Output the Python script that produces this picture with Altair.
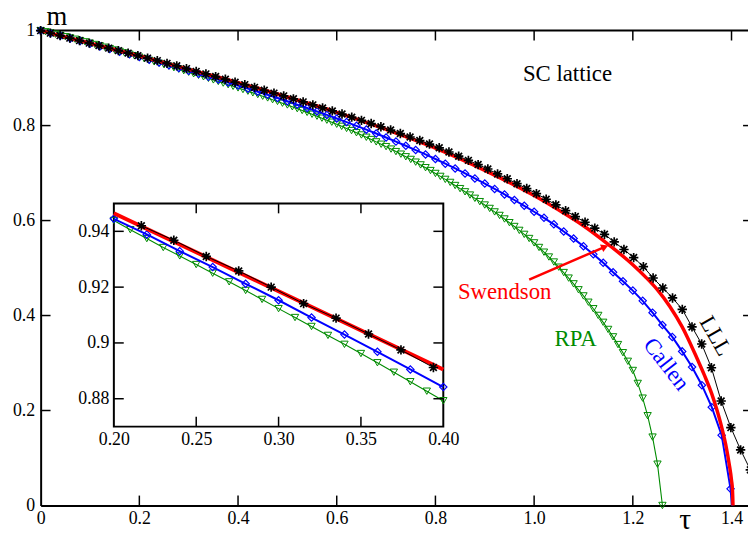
import altair as alt
import pandas as pd

# ---------------- data ----------------
LLL_TAU = [
    0.0000, 0.0197, 0.0394, 0.0591, 0.0788, 0.0985, 0.1182, 0.1379, 0.1576, 0.1773,
    0.1970, 0.2167, 0.2364, 0.2561, 0.2758, 0.2955, 0.3152, 0.3349, 0.3546, 0.3743,
    0.3940, 0.4137, 0.4334, 0.4531, 0.4728, 0.4925, 0.5122, 0.5319, 0.5516, 0.5713,
    0.5910, 0.6107, 0.6304, 0.6501, 0.6698, 0.6895, 0.7092, 0.7289, 0.7486, 0.7683,
    0.7880, 0.8077, 0.8274, 0.8471, 0.8668, 0.8865, 0.9062, 0.9259, 0.9456, 0.9653,
    0.9850, 1.0047, 1.0244, 1.0441, 1.0638, 1.0835, 1.1032, 1.1229, 1.1426, 1.1623,
    1.1820, 1.2017, 1.2214, 1.2411, 1.2608, 1.2805, 1.3002, 1.3199, 1.3396, 1.3593,
    1.3790, 1.3987, 1.4184, 1.4381]
LLL_M = [
    1.0000, 0.9947, 0.9895, 0.9842, 0.9789, 0.9737, 0.9684, 0.9631, 0.9578, 0.9526,
    0.9473, 0.9420, 0.9368, 0.9310, 0.9258, 0.9200, 0.9141, 0.9089, 0.9032, 0.8975,
    0.8912, 0.8863, 0.8804, 0.8744, 0.8684, 0.8625, 0.8563, 0.8499, 0.8436, 0.8372,
    0.8309, 0.8243, 0.8177, 0.8110, 0.8043, 0.7976, 0.7906, 0.7832, 0.7759, 0.7685,
    0.7611, 0.7532, 0.7444, 0.7356, 0.7267, 0.7179, 0.7085, 0.6982, 0.6880, 0.6777,
    0.6674, 0.6567, 0.6449, 0.6331, 0.6208, 0.6084, 0.5965, 0.5841, 0.5710, 0.5550,
    0.5390, 0.5220, 0.5030, 0.4790, 0.4580, 0.4370, 0.4130, 0.3760, 0.3400, 0.2900,
    0.2200, 0.1640, 0.1170, 0.0750]

CALLEN_TAU = [
    0.00, 0.02, 0.04, 0.06, 0.08, 0.10, 0.12, 0.14, 0.16, 0.18,
    0.20, 0.22, 0.24, 0.26, 0.28, 0.30, 0.32, 0.34, 0.36, 0.38,
    0.40, 0.42, 0.44, 0.46, 0.48, 0.50, 0.52, 0.54, 0.56, 0.58,
    0.60, 0.62, 0.64, 0.66, 0.68, 0.70, 0.72, 0.74, 0.76, 0.78,
    0.80, 0.82, 0.84, 0.86, 0.88, 0.90, 0.92, 0.94, 0.96, 0.98,
    1.00, 1.02, 1.04, 1.06, 1.08, 1.10, 1.12, 1.14, 1.16, 1.18,
    1.20, 1.22, 1.24, 1.26, 1.28, 1.30, 1.32, 1.34, 1.36, 1.38,
    1.398, 1.401]
CALLEN_M = [
    1.0000, 0.9945, 0.9890, 0.9835, 0.9779, 0.9724, 0.9668, 0.9612, 0.9556, 0.9501,
    0.9445, 0.9389, 0.9329, 0.9272, 0.9212, 0.9153, 0.9091, 0.9030, 0.8968, 0.8905,
    0.8842, 0.8778, 0.8713, 0.8647, 0.8580, 0.8512, 0.8442, 0.8371, 0.8299, 0.8225,
    0.8150, 0.8073, 0.7995, 0.7915, 0.7833, 0.7749, 0.7663, 0.7575, 0.7485, 0.7392,
    0.7296, 0.7198, 0.7097, 0.6993, 0.6887, 0.6778, 0.6666, 0.6551, 0.6433, 0.6311,
    0.6186, 0.6057, 0.5920, 0.5770, 0.5620, 0.5460, 0.5290, 0.5110, 0.4910, 0.4720,
    0.4525, 0.4310, 0.4060, 0.3800, 0.3550, 0.3245, 0.2915, 0.2533, 0.2070, 0.1480,
    0.0350, 0.0000]

RPA_TAU = [
    0.00, 0.01, 0.02, 0.03, 0.04, 0.05, 0.06, 0.07, 0.08, 0.09,
    0.10, 0.11, 0.12, 0.13, 0.14, 0.15, 0.16, 0.17, 0.18, 0.19,
    0.20, 0.21, 0.22, 0.23, 0.24, 0.25, 0.26, 0.27, 0.28, 0.29,
    0.30, 0.31, 0.32, 0.33, 0.34, 0.35, 0.36, 0.37, 0.38, 0.39,
    0.40, 0.41, 0.42, 0.43, 0.44, 0.45, 0.46, 0.47, 0.48, 0.49,
    0.50, 0.51, 0.52, 0.53, 0.54, 0.55, 0.56, 0.57, 0.58, 0.59,
    0.60, 0.61, 0.62, 0.63, 0.64, 0.65, 0.66, 0.67, 0.68, 0.69,
    0.70, 0.71, 0.72, 0.73, 0.74, 0.75, 0.76, 0.77, 0.78, 0.79,
    0.80, 0.81, 0.82, 0.83, 0.84, 0.85, 0.86, 0.87, 0.88, 0.89,
    0.90, 0.91, 0.92, 0.93, 0.94, 0.95, 0.96, 0.97, 0.98, 0.99,
    1.00, 1.01, 1.02, 1.03, 1.04, 1.05, 1.06, 1.07, 1.08, 1.09,
    1.10, 1.11, 1.12, 1.13, 1.14, 1.15, 1.16, 1.17, 1.18, 1.19,
    1.20, 1.21, 1.22, 1.23, 1.24, 1.25, 1.26]
RPA_M = [
    1.0000, 0.9975, 0.9949, 0.9924, 0.9898, 0.9871, 0.9845, 0.9818, 0.9790, 0.9763,
    0.9735, 0.9707, 0.9678, 0.9650, 0.9621, 0.9591, 0.9561, 0.9531, 0.9501, 0.9470,
    0.9439, 0.9406, 0.9374, 0.9342, 0.9312, 0.9281, 0.9250, 0.9219, 0.9188, 0.9156,
    0.9123, 0.9091, 0.9059, 0.9027, 0.8995, 0.8962, 0.8929, 0.8895, 0.8861, 0.8827,
    0.8793, 0.8759, 0.8724, 0.8689, 0.8654, 0.8618, 0.8582, 0.8546, 0.8509, 0.8472,
    0.8434, 0.8396, 0.8357, 0.8318, 0.8278, 0.8238, 0.8197, 0.8156, 0.8114, 0.8071,
    0.8028, 0.7984, 0.7940, 0.7895, 0.7849, 0.7802, 0.7754, 0.7706, 0.7657, 0.7607,
    0.7557, 0.7505, 0.7452, 0.7398, 0.7343, 0.7287, 0.7230, 0.7172, 0.7113, 0.7053,
    0.6992, 0.6930, 0.6867, 0.6803, 0.6738, 0.6672, 0.6605, 0.6537, 0.6468, 0.6398,
    0.6327, 0.6255, 0.6182, 0.6108, 0.6033, 0.5955, 0.5875, 0.5793, 0.5709, 0.5622,
    0.5530, 0.5433, 0.5334, 0.5232, 0.5127, 0.5018, 0.4905, 0.4788, 0.4667, 0.4542,
    0.4413, 0.4280, 0.4143, 0.4002, 0.3857, 0.3707, 0.3551, 0.3388, 0.3217, 0.3036,
    0.2843, 0.2570, 0.2260, 0.1890, 0.1440, 0.0870, 0.0000]

SW_TAU = [0.0, 0.1, 0.2, 0.3, 0.4, 0.5, 0.6, 0.7, 0.8, 0.9, 1.0, 1.05, 1.1, 1.15,
          1.2, 1.225, 1.25, 1.275, 1.3, 1.31, 1.33, 1.345, 1.36, 1.37, 1.38, 1.39,
          1.395, 1.4, 1.402, 1.403]
SW_M = [1.0, 0.9733, 0.9465, 0.9185, 0.8905, 0.8602, 0.828, 0.792, 0.7526, 0.7058,
        0.6526, 0.622, 0.589, 0.550, 0.507, 0.482, 0.454, 0.419, 0.376, 0.3555, 0.310,
        0.2745, 0.235, 0.2025, 0.165, 0.119, 0.089, 0.053, 0.031, 0.0]

# annotation texts (positions in data units)
ANN_TEXT = ["SC lattice", "Swendson", "RPA", "Callen", "LLL"]
ANN_TAU = [1.0675, 0.9403, 1.084, 1.2677, 1.3673]
ANN_M = [0.908, 0.4488, 0.3505, 0.2974, 0.3567]
ANN_COLOR = ["#000000", "#ff0000", "#008b00", "#0000ff", "#000000"]
ANN_ANGLE = [0, 0, 0, 52, 60]

ARROW_TAU = [0.990, 1.1434]
ARROW_M = [0.4754, 0.5447]

X_LABELS = [0, 0.2, 0.4, 0.6, 0.8, 1.0, 1.2, 1.4]
Y_LABELS = [0, 0.2, 0.4, 0.6, 0.8, 1.0]
X_TICKS = [0.2, 0.4, 0.6, 0.8, 1.0, 1.2, 1.4]
Y_TICKS = [0.2, 0.4, 0.6, 0.8]
IX_LABELS = [0.20, 0.25, 0.30, 0.35, 0.40]
IY_LABELS = [0.88, 0.90, 0.92, 0.94]
IX_TICKS = [0.25, 0.30, 0.35]
IY_TICKS = [0.88, 0.90, 0.92, 0.94]

# ---------------- styling / layout ----------------
W, H = 715, 480
XMAX = 1.4334
FONT = "Liberation Serif"
RED, BLUE, GREEN, BLACK = "#ff0000", "#0000ff", "#008b00", "#000000"
STAR = "M-1,0L1,0M0,-1L0,1M-0.72,-0.72L0.72,0.72M-0.72,0.72L0.72,-0.72"
IX0, IX1, IY0, IY1 = 74, 407, 174.7, 400.3   # inset box in plot pixels

xs = alt.Scale(domain=[0, XMAX], nice=False, zero=False)
ys = alt.Scale(domain=[0, 1], nice=False, zero=False)
ixs = alt.Scale(domain=[0.2, 0.4], range=[IX0, IX1], nice=False, zero=False)
iys = alt.Scale(domain=[0.87, 0.95], range=[IY1, IY0], nice=False, zero=False)

common = dict(ticks=False, grid=False, labelFont=FONT, labelFontSize=18,
              labelColor=BLACK, labelFlush=False, labelOverlap=False, labelBound=False)

X_AXIS = alt.Axis(values=X_LABELS, orient="bottom",
                  labelExpr="datum.value == 0 ? '0' : format(datum.value, '.1f')",
                  domain=True, domainColor=BLACK, domainWidth=2, labelPadding=4,
                  title="τ", titleFont=FONT, titleFontSize=30, titleFontWeight="normal",
                  titleColor=BLACK, titleAngle=0, titleX=651, titleY=23,
                  titleAlign="center", titleBaseline="alphabetic", **common)
Y_AXIS = alt.Axis(values=Y_LABELS, orient="left", labelExpr="format(datum.value, '~g')",
                  domain=True, domainColor=BLACK, domainWidth=2, labelPadding=6,
                  title="m", titleFont=FONT, titleFontSize=27, titleFontWeight="normal",
                  titleColor=BLACK, titleAngle=0, titleX=16, titleY=-6,
                  titleAlign="center", titleBaseline="alphabetic", **common)
IX_AXIS = alt.Axis(values=IX_LABELS, orient="bottom", format=".2f", domain=False,
                   offset=IY1 - H, labelPadding=4, title=None, **common)
IY_AXIS = alt.Axis(values=IY_LABELS, orient="left", labelExpr="format(datum.value, '~g')",
                   domain=False, offset=-IX0, labelPadding=5, title=None, **common)


def frame(t, m):
    return pd.DataFrame({"t": t, "m": m})


lll = frame(LLL_TAU, LLL_M)
cal = frame(CALLEN_TAU, CALLEN_M)
rpa = frame(RPA_TAU, RPA_M)
swd = frame(SW_TAU, SW_M)


def sub(df):
    return df[(df.t >= 0.1999) & (df.t <= 0.4001)]


def xy(inset):
    if inset:
        return dict(x=alt.X("t:Q", scale=ixs, axis=IX_AXIS),
                    y=alt.Y("m:Q", scale=iys, axis=IY_AXIS))
    return dict(x=alt.X("t:Q", scale=xs, axis=X_AXIS),
                y=alt.Y("m:Q", scale=ys, axis=Y_AXIS))


def series_layers(inset):
    f = sub if inset else (lambda d: d)
    red_w = 4 if inset else 3.5
    layers = [
        alt.Chart(f(rpa)).mark_line(color=GREEN, strokeWidth=1.1).encode(**xy(inset)),
        alt.Chart(f(rpa)).mark_point(shape="triangle-down", filled=False, color=GREEN,
                                     strokeWidth=1, size=55, opacity=1).encode(**xy(inset)),
        alt.Chart(f(cal)).mark_line(color=BLUE, strokeWidth=2).encode(**xy(inset)),
        alt.Chart(f(cal[cal.m > 0])).mark_point(shape="diamond", filled=False, color=BLUE,
                                               strokeWidth=1.2, size=55, opacity=1).encode(**xy(inset)),
        alt.Chart(f(swd)).mark_line(color=RED, strokeWidth=red_w,
                                    interpolate="monotone").encode(**xy(inset)),
        alt.Chart(f(lll)).mark_line(color=BLACK, strokeWidth=1).encode(**xy(inset)),
        alt.Chart(f(lll)).mark_point(shape=STAR, filled=False, color=BLACK,
                                     strokeWidth=1.7, size=90, opacity=1).encode(**xy(inset)),
    ]
    return layers


one = pd.DataFrame({"a": [0]})

# ---- main panel ----
main_layers = []
xt = pd.DataFrame({"t": X_TICKS})
yt = pd.DataFrame({"m": Y_TICKS})
main_layers.append(alt.Chart(xt).mark_rule(color=BLACK, strokeWidth=1.5).encode(
    x=alt.X("t:Q", scale=xs, axis=X_AXIS), y=alt.value(H), y2=alt.value(H - 10)))
main_layers.append(alt.Chart(xt).mark_rule(color=BLACK, strokeWidth=1.5).encode(
    x=alt.X("t:Q", scale=xs, axis=X_AXIS), y=alt.value(0), y2=alt.value(10)))
main_layers.append(alt.Chart(yt).mark_rule(color=BLACK, strokeWidth=1.5).encode(
    y=alt.Y("m:Q", scale=ys, axis=Y_AXIS), x=alt.value(0), x2=alt.value(10)))
main_layers.append(alt.Chart(yt).mark_rule(color=BLACK, strokeWidth=1.5).encode(
    y=alt.Y("m:Q", scale=ys, axis=Y_AXIS), x=alt.value(W - 5), x2=alt.value(W)))
main_layers.append(alt.Chart(one).mark_rule(color=BLACK, strokeWidth=2).encode(
    x=alt.value(0), x2=alt.value(W), y=alt.value(0)))
main_layers += series_layers(False)

# arrow Swendson -> curve
arrow = frame(ARROW_TAU, ARROW_M)
main_layers.append(alt.Chart(arrow).mark_line(color=RED, strokeWidth=2.5).encode(**xy(False)))
main_layers.append(alt.Chart(arrow.iloc[[1]]).mark_point(
    shape="triangle-right", filled=True, color=RED, size=70, opacity=1, angle=336.4
).encode(**xy(False)))

for txt, t, m, c, a in zip(ANN_TEXT, ANN_TAU, ANN_M, ANN_COLOR, ANN_ANGLE):
    d = pd.DataFrame({"t": [t], "m": [m], "label": [txt]})
    main_layers.append(alt.Chart(d).mark_text(
        font=FONT, fontSize=23, color=c, angle=a, align="center", baseline="middle"
    ).encode(text="label:N", **xy(False)))

main = alt.layer(*main_layers)

# ---- inset panel ----
inset_layers = [alt.Chart(one).mark_rect(fill="white", stroke=BLACK, strokeWidth=2).encode(
    x=alt.value(IX0), x2=alt.value(IX1), y=alt.value(IY0), y2=alt.value(IY1))]
inset_layers += series_layers(True)
ixt = pd.DataFrame({"t": IX_TICKS})
iyt = pd.DataFrame({"m": IY_TICKS})
inset_layers.append(alt.Chart(ixt).mark_rule(color=BLACK, strokeWidth=1.5).encode(
    x=alt.X("t:Q", scale=ixs, axis=IX_AXIS), y=alt.value(IY1), y2=alt.value(IY1 - 10)))
inset_layers.append(alt.Chart(ixt).mark_rule(color=BLACK, strokeWidth=1.5).encode(
    x=alt.X("t:Q", scale=ixs, axis=IX_AXIS), y=alt.value(IY0), y2=alt.value(IY0 + 10)))
inset_layers.append(alt.Chart(iyt).mark_rule(color=BLACK, strokeWidth=1.5).encode(
    y=alt.Y("m:Q", scale=iys, axis=IY_AXIS), x=alt.value(IX0), x2=alt.value(IX0 + 10)))
inset_layers.append(alt.Chart(iyt).mark_rule(color=BLACK, strokeWidth=1.5).encode(
    y=alt.Y("m:Q", scale=iys, axis=IY_AXIS), x=alt.value(IX1 - 10), x2=alt.value(IX1)))
inset = alt.layer(*inset_layers)

chart = alt.layer(main, inset).resolve_scale(
    x="independent", y="independent"
).properties(
    width=W, height=H,
    padding={"left": 33, "top": 20, "right": 0, "bottom": 28},
    autosize=alt.AutoSizeParams(type="none"),
    background="white",
).configure_view(stroke=None)

chart.save("out.html", embed_options={"renderer": "svg", "actions": False})
